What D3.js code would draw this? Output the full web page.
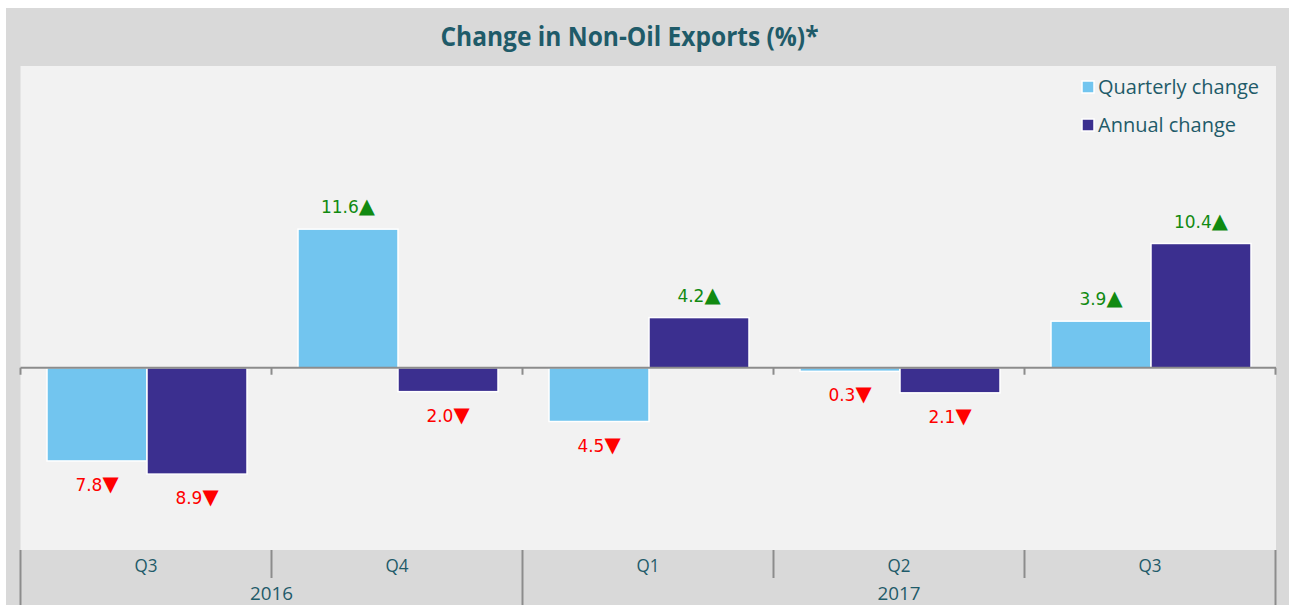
<!DOCTYPE html>
<html>
<head>
<meta charset="utf-8">
<script src="https://cdn.jsdelivr.net/npm/d3@7"></script>
<style>
  html, body { margin: 0; padding: 0; background: #fff; }
  svg { display: block; }
</style>
</head>
<body>
<div id="canvas"></div>
<script>
const quarters = ['Q3', 'Q4', 'Q1', 'Q2', 'Q3']
const years = [
  { name: '2016', from: 0, to: 2 },
  { name: '2017', from: 2, to: 5 }
]
const seriesNames = ['Quarterly change', 'Annual change']
const quarterly = [-7.8, 11.6, -4.5, -0.3, 3.9]
const annual = [-8.9, -2.0, 4.2, -2.1, 10.4]
const yTicks = [-15, 25]

const width = 1289
const height = 605
const plot = { left: 20.5, right: 1276, top: 66, bottom: 550 }
const colors = ['#72c5ef', '#3b2f8f']
const teal = '#1f5b69'

const svg = d3.select('#canvas')
  .append('svg')
    .attr('width', width)
    .attr('height', height)
    .attr('viewBox', [0, 0, width, height])

// backgrounds
svg.append('rect')
  .attr('x', 6).attr('y', 8)
  .attr('width', width - 6).attr('height', height - 8)
  .attr('fill', '#d9d9d9')

svg.append('rect')
  .attr('x', plot.left).attr('y', plot.top)
  .attr('width', plot.right - plot.left).attr('height', plot.bottom - plot.top)
  .attr('fill', '#f2f2f2')

svg.append('text')
  .attr('x', 629.5).attr('y', 46)
  .attr('text-anchor', 'middle')
  .attr('font-family', 'Open Sans, sans-serif')
  .attr('font-weight', 'bold')
  .attr('font-size', 26)
  .attr('fill', teal)
  .attr('textLength', 378)
  .attr('lengthAdjust', 'spacingAndGlyphs')
  .text('Change in Non-Oil Exports (%)*')

const idx = d3.range(quarters.length)
const data = idx.map(i => ({ i, values: [quarterly[i], annual[i]] }))

const x = d3.scaleBand()
  .domain(idx)
  .range([20.5, 1275.5])
  .padding(0)

const x1 = d3.scaleBand()
  .domain([0, 1])
  .range([0, x.bandwidth()])
  .paddingInner(0)
  .paddingOuter(0.255)

const y = d3.scaleLinear()
  .domain(d3.extent(yTicks))
  .range([547, 69])

// bars
const groups = svg.selectAll('g.grp')
  .data(data)
  .enter()
  .append('g')
    .attr('class', 'grp')
    .attr('transform', d => `translate(${x(d.i) + 1}, 0)`)

groups.selectAll('rect')
  .data(d => d.values.map((v, k) => ({ v, k })))
  .enter()
  .append('rect')
    .attr('x', d => x1(d.k))
    .attr('y', d => y(Math.max(0, d.v)))
    .attr('width', x1.bandwidth())
    .attr('height', d => Math.abs(y(d.v) - y(0)))
    .attr('fill', d => colors[d.k])
    .attr('stroke', '#fff')
    .attr('stroke-width', 1.5)

const labels = groups.selectAll('text')
  .data(d => d.values.map((v, k) => ({ v, k })))
  .enter()
  .append('text')
    .attr('x', d => x1(d.k) + x1.bandwidth() / 2)
    .attr('y', d => d.v >= 0 ? y(d.v) - 22 : y(d.v) + 24)
    .attr('dy', '0.36em')
    .attr('text-anchor', 'middle')
    .attr('font-family', 'DejaVu Sans, sans-serif')
    .attr('font-size', 17)
    .attr('fill', d => d.v >= 0 ? '#118a11' : '#ff0000')
labels.append('tspan')
  .text(d => Math.abs(d.v).toFixed(1))
labels.append('tspan')
  .attr('font-size', 21)
  .text(d => d.v >= 0 ? '▲' : '▼')

// zero axis
const zero = svg.append('g')
zero.append('line')
  .attr('x1', plot.left).attr('x2', plot.right)
  .attr('y1', y(0)).attr('y2', y(0))
  .attr('stroke', '#8c8c8c')
  .attr('stroke-width', 2)
zero.selectAll('line.tick')
  .data(d3.range(quarters.length + 1))
  .enter()
  .append('line')
    .attr('class', 'tick')
    .attr('x1', i => i < quarters.length ? x(i) : x.range()[1])
    .attr('x2', i => i < quarters.length ? x(i) : x.range()[1])
    .attr('y1', y(0))
    .attr('y2', y(0) + 7)
    .attr('stroke', '#8c8c8c')
    .attr('stroke-width', 2)

// category axis
const edge = i => i < quarters.length ? x(i) : x.range()[1]
const yearStarts = new Set(years.map(d => d.from).concat(years.map(d => d.to)))
const cat = svg.append('g')
cat.selectAll('line')
  .data(d3.range(quarters.length + 1))
  .enter()
  .append('line')
    .attr('x1', edge).attr('x2', edge)
    .attr('y1', plot.bottom)
    .attr('y2', i => yearStarts.has(i) ? height : 578)
    .attr('stroke', '#8c8c8c')
    .attr('stroke-width', 2)

cat.selectAll('text.q')
  .data(quarters)
  .enter()
  .append('text')
    .attr('class', 'q')
    .attr('x', (d, i) => x(i) + x.bandwidth() / 2)
    .attr('y', 572)
    .attr('text-anchor', 'middle')
    .attr('font-family', 'Open Sans, sans-serif')
    .attr('font-size', 18)
    .attr('fill', teal)
    .attr('textLength', 23)
    .attr('lengthAdjust', 'spacingAndGlyphs')
    .text(d => d)

cat.selectAll('text.y')
  .data(years)
  .enter()
  .append('text')
    .attr('class', 'y')
    .attr('x', d => (edge(d.from) + edge(d.to)) / 2)
    .attr('y', 600)
    .attr('text-anchor', 'middle')
    .attr('font-family', 'Open Sans, sans-serif')
    .attr('font-size', 18)
    .attr('fill', teal)
    .attr('textLength', 43)
    .attr('lengthAdjust', 'spacingAndGlyphs')
    .text(d => d.name)

// legend
const legend = svg.append('g')
  .attr('transform', 'translate(1082, 81)')
const item = legend.selectAll('g')
  .data(seriesNames)
  .enter()
  .append('g')
    .attr('transform', (d, i) => `translate(0, ${i * 38})`)
item.append('rect')
  .attr('width', 12).attr('height', 12)
  .attr('fill', (d, i) => colors[i])
  .attr('stroke', '#fff')
  .attr('stroke-width', 1.5)
item.append('text')
  .attr('x', 16)
  .attr('y', 6)
  .attr('dy', '0.36em')
  .attr('font-family', 'Open Sans, sans-serif')
  .attr('font-size', 20)
  .attr('fill', teal)
  .attr('textLength', (d, i) => i === 0 ? 161 : 138)
  .attr('lengthAdjust', 'spacingAndGlyphs')
  .text(d => d)
</script>
</body>
</html>
